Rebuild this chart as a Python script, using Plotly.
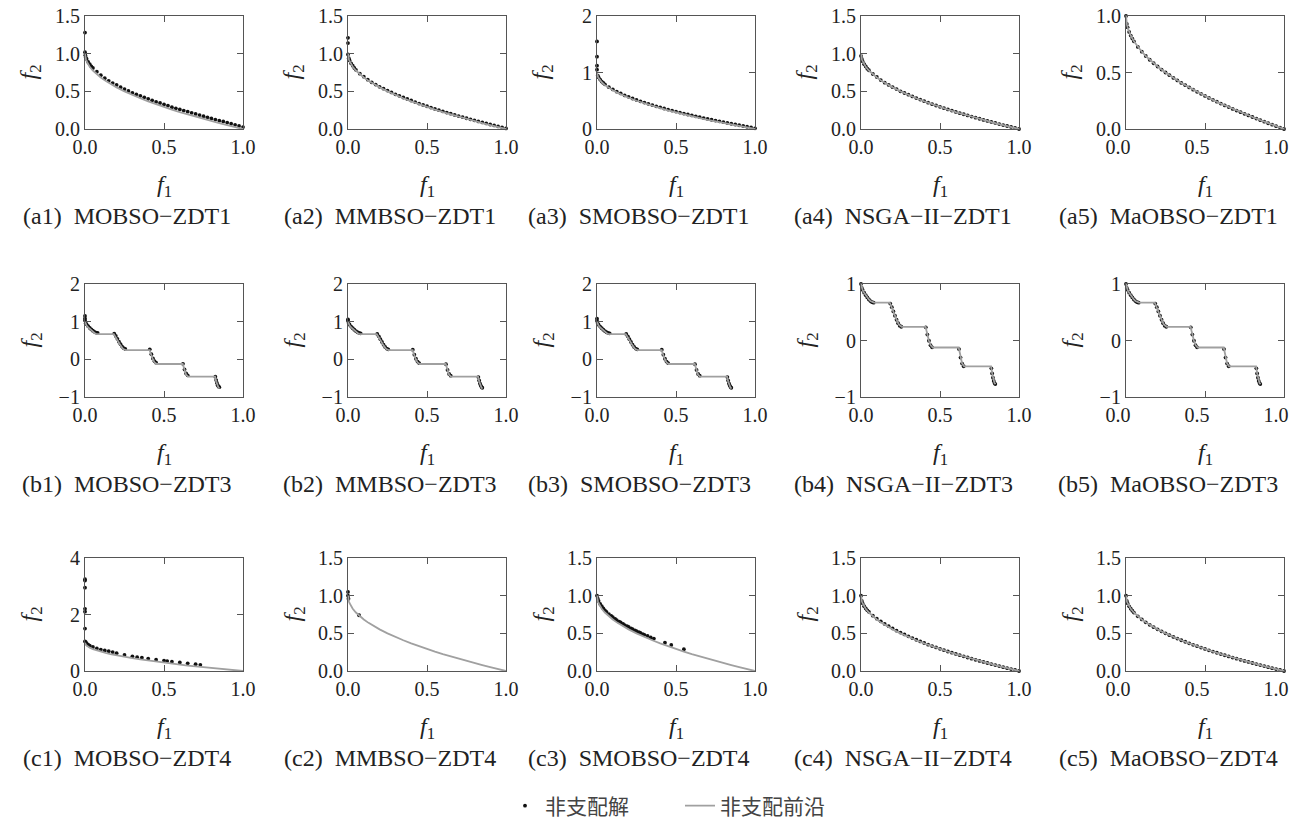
import plotly.graph_objects as go

# ---------------- data ----------------
TITLES = [
    "(a1)  MOBSO−ZDT1", "(a2)  MMBSO−ZDT1", "(a3)  SMOBSO−ZDT1", "(a4)  NSGA−II−ZDT1", "(a5)  MaOBSO−ZDT1",
    "(b1)  MOBSO−ZDT3", "(b2)  MMBSO−ZDT3", "(b3)  SMOBSO−ZDT3", "(b4)  NSGA−II−ZDT3", "(b5)  MaOBSO−ZDT3",
    "(c1)  MOBSO−ZDT4", "(c2)  MMBSO−ZDT4", "(c3)  SMOBSO−ZDT4", "(c4)  NSGA−II−ZDT4", "(c5)  MaOBSO−ZDT4",
]
X_TICKS = [0.0, 0.5, 1.0]
X_TICK_TEXT = ["0.0", "0.5", "1.0"]

# true Pareto fronts (grey line)
ZDT1_PF_F1 = [0, 0.001, 0.003, 0.006, 0.01, 0.02, 0.03, 0.05, 0.07, 0.1, 0.13, 0.16, 0.2, 0.25, 0.3,
              0.35, 0.4, 0.45, 0.5, 0.55, 0.6, 0.65, 0.7, 0.75, 0.8, 0.85, 0.9, 0.95, 1.0]
ZDT1_PF_F2 = [1.0, 0.968, 0.945, 0.923, 0.9, 0.859, 0.827, 0.776, 0.735, 0.684, 0.639, 0.6, 0.553, 0.5, 0.452,
              0.408, 0.368, 0.329, 0.293, 0.258, 0.225, 0.194, 0.163, 0.134, 0.106, 0.078, 0.051, 0.025, 0.0]

ZDT3_PF_F1 = [0, 0.005, 0.01, 0.02, 0.03, 0.04, 0.05, 0.06, 0.07, 0.083,
              0.1822, 0.19, 0.2, 0.21, 0.22, 0.23, 0.24, 0.2578,
              0.4093, 0.415, 0.42, 0.43, 0.44, 0.4539,
              0.6184, 0.625, 0.63, 0.64, 0.6525,
              0.8233, 0.83, 0.835, 0.84, 0.845, 0.8518]
ZDT3_PF_F2 = [1.0, 0.9285, 0.8969, 0.8468, 0.8025, 0.762, 0.7264, 0.698, 0.6788, 0.6697,
              0.6697, 0.6228, 0.5528, 0.4768, 0.402, 0.3343, 0.282, 0.2422,
              0.2422, 0.1674, 0.105, -0.004, -0.082, -0.1242,
              -0.1243, -0.2325, -0.3034, -0.4087, -0.4583,
              -0.4574, -0.5826, -0.6578, -0.7155, -0.754, -0.7734]

# non-dominated solutions (black dots)
ZDT1_DOT_F1 = [0.005, 0.01, 0.02, 0.03, 0.04, 0.05, 0.075, 0.1, 0.125, 0.15, 0.175, 0.2, 0.225, 0.25, 0.275,
               0.3, 0.325, 0.35, 0.375, 0.4, 0.425, 0.45, 0.475, 0.5, 0.525, 0.55, 0.575, 0.6, 0.625, 0.65,
               0.675, 0.7, 0.725, 0.75, 0.775, 0.8, 0.825, 0.85, 0.875, 0.9, 0.925, 0.95, 0.975, 1.0]

A1_F1 = [0.0, 0.0, 0.002] + ZDT1_DOT_F1
A1_F2 = [1.28, 1.02, 0.98,
         0.95, 0.93, 0.89, 0.86, 0.83, 0.81, 0.76, 0.715, 0.675, 0.64, 0.61, 0.585, 0.555, 0.53, 0.505,
         0.48, 0.46, 0.44, 0.42, 0.40, 0.38, 0.36, 0.345, 0.325, 0.31, 0.29, 0.275, 0.26, 0.245, 0.23,
         0.215, 0.2, 0.185, 0.17, 0.155, 0.14, 0.125, 0.11, 0.1, 0.085, 0.07, 0.055, 0.04, 0.025]

A2_F1 = [0.0, 0.0, 0.0] + ZDT1_DOT_F1
A2_F2 = [1.21, 1.14, 0.99,
         0.94, 0.91, 0.87, 0.84, 0.81, 0.785, 0.735, 0.695, 0.655, 0.62, 0.59, 0.56, 0.535, 0.51, 0.485,
         0.46, 0.44, 0.418, 0.398, 0.378, 0.357, 0.338, 0.32, 0.302, 0.284, 0.267, 0.25, 0.234, 0.218, 0.203,
         0.187, 0.172, 0.158, 0.143, 0.129, 0.115, 0.101, 0.087, 0.074, 0.06, 0.047, 0.034, 0.022, 0.008]

A3_F1 = [0.0, 0.0, 0.0, 0.0] + ZDT1_DOT_F1
A3_F2 = [1.55, 1.28, 1.12, 1.05,
         0.945, 0.915, 0.875, 0.84, 0.815, 0.79, 0.74, 0.7, 0.66, 0.63, 0.595, 0.57, 0.54, 0.515, 0.49,
         0.468, 0.445, 0.423, 0.402, 0.383, 0.363, 0.344, 0.326, 0.308, 0.29, 0.273, 0.257, 0.24, 0.224, 0.209,
         0.193, 0.178, 0.164, 0.149, 0.135, 0.121, 0.107, 0.093, 0.08, 0.066, 0.053, 0.04, 0.028, 0.012]

A4_F1 = [0.0] + ZDT1_DOT_F1
A4_F2 = [0.97,
         0.93, 0.90, 0.86, 0.83, 0.80, 0.78, 0.73, 0.69, 0.65, 0.615, 0.585, 0.555, 0.53, 0.5, 0.478,
         0.455, 0.432, 0.41, 0.39, 0.37, 0.35, 0.33, 0.312, 0.295, 0.277, 0.26, 0.244, 0.227, 0.21, 0.196,
         0.18, 0.165, 0.15, 0.136, 0.121, 0.107, 0.094, 0.08, 0.066, 0.052, 0.04, 0.027, 0.014, 0.0]

A5_F1 = [0.0] + ZDT1_DOT_F1
A5_F2 = [1.0,
         0.929, 0.900, 0.859, 0.827, 0.800, 0.776, 0.726, 0.684, 0.646, 0.613, 0.582, 0.553, 0.526, 0.500,
         0.476, 0.452, 0.430, 0.408, 0.388, 0.368, 0.348, 0.329, 0.311, 0.293, 0.275, 0.258, 0.242, 0.225,
         0.209, 0.194, 0.178, 0.163, 0.149, 0.134, 0.120, 0.106, 0.092, 0.078, 0.065, 0.051, 0.038, 0.025,
         0.013, 0.000]

ZDT3_DOT_F1 = [0, 0.005, 0.01, 0.02, 0.03, 0.04, 0.05, 0.06, 0.07, 0.08,
               0.185, 0.195, 0.205, 0.215, 0.225, 0.235, 0.245, 0.255,
               0.41, 0.42, 0.43, 0.44, 0.45,
               0.62, 0.63, 0.64, 0.65,
               0.825, 0.83, 0.835, 0.84, 0.845, 0.85]

B1_F1 = [0.0, 0.0] + ZDT3_DOT_F1
B1_F2 = [1.15, 1.08,
         1.03, 0.96, 0.93, 0.88, 0.835, 0.795, 0.76, 0.73, 0.71, 0.70,
         0.685, 0.62, 0.545, 0.47, 0.4, 0.34, 0.295, 0.275,
         0.265, 0.135, 0.025, -0.05, -0.09,
         -0.12, -0.27, -0.375, -0.425,
         -0.46, -0.55, -0.625, -0.685, -0.72, -0.74]

B2_F1 = [0.0] + ZDT3_DOT_F1
B2_F2 = [1.06,
         1.02, 0.95, 0.92, 0.87, 0.825, 0.785, 0.75, 0.72, 0.70, 0.69,
         0.675, 0.61, 0.535, 0.46, 0.39, 0.33, 0.285, 0.265,
         0.255, 0.125, 0.015, -0.06, -0.1,
         -0.13, -0.28, -0.39, -0.435,
         -0.47, -0.56, -0.64, -0.695, -0.735, -0.755]

B3_F1 = [0.0] + ZDT3_DOT_F1
B3_F2 = [1.08,
         1.02, 0.95, 0.92, 0.87, 0.825, 0.785, 0.75, 0.72, 0.70, 0.69,
         0.675, 0.61, 0.535, 0.46, 0.39, 0.33, 0.285, 0.265,
         0.255, 0.125, 0.015, -0.06, -0.1,
         -0.13, -0.28, -0.39, -0.435,
         -0.47, -0.56, -0.64, -0.695, -0.735, -0.755]

B4_F1 = ZDT3_DOT_F1
B4_F2 = [1.0, 0.929, 0.897, 0.847, 0.803, 0.762, 0.726, 0.698, 0.679, 0.670,
         0.654, 0.589, 0.515, 0.439, 0.367, 0.306, 0.263, 0.243,
         0.233, 0.105, -0.004, -0.082, -0.121,
         -0.152, -0.303, -0.409, -0.456,
         -0.492, -0.583, -0.658, -0.716, -0.754, -0.772]

B5_F1 = ZDT3_DOT_F1
B5_F2 = [1.0, 0.929, 0.897, 0.847, 0.803, 0.762, 0.726, 0.698, 0.679, 0.670,
         0.654, 0.589, 0.515, 0.439, 0.367, 0.306, 0.263, 0.243,
         0.233, 0.105, -0.004, -0.082, -0.121,
         -0.152, -0.303, -0.409, -0.456,
         -0.492, -0.583, -0.658, -0.716, -0.754, -0.772]

C1_F1 = [0, 0, 0, 0, 0, 0, 0,
         0.005, 0.01, 0.02, 0.03, 0.05, 0.075, 0.1, 0.125, 0.15, 0.175, 0.2, 0.25, 0.3, 0.33, 0.36,
         0.4, 0.45, 0.5, 0.52, 0.55, 0.6, 0.65, 0.7, 0.73]
C1_F2 = [3.25, 3.2, 2.95, 2.2, 2.1, 1.5, 1.05,
         1.02, 0.98, 0.93, 0.9, 0.85, 0.8, 0.76, 0.73, 0.7, 0.67, 0.63, 0.57, 0.52, 0.49, 0.47,
         0.44, 0.4, 0.37, 0.35, 0.33, 0.3, 0.27, 0.24, 0.22]

C2_F1 = [0.0, 0.0, 0.003, 0.07]
C2_F2 = [1.05, 1.0, 0.96, 0.74]

C3_F1 = [0, 0.005, 0.01, 0.02, 0.03, 0.04, 0.05, 0.06, 0.075, 0.09, 0.1, 0.115, 0.125, 0.14, 0.15,
         0.165, 0.175, 0.19, 0.2, 0.215, 0.225, 0.24, 0.25, 0.265, 0.275, 0.29, 0.3, 0.32, 0.34, 0.36,
         0.43, 0.47, 0.55]
C3_F2 = [1.0, 0.96, 0.93, 0.89, 0.86, 0.83, 0.805, 0.785, 0.755, 0.73, 0.715, 0.69, 0.675, 0.655, 0.645,
         0.625, 0.61, 0.595, 0.585, 0.565, 0.555, 0.54, 0.53, 0.515, 0.505, 0.49, 0.48, 0.465, 0.445, 0.43,
         0.375, 0.345, 0.29]

C4_F1 = [0.0] + ZDT1_DOT_F1
C4_F2 = [1.0,
         0.93, 0.90, 0.86, 0.83, 0.805, 0.785, 0.735, 0.695, 0.66, 0.625, 0.595, 0.565, 0.535, 0.51, 0.485,
         0.46, 0.437, 0.415, 0.393, 0.372, 0.35, 0.331, 0.313, 0.295, 0.277, 0.259, 0.243, 0.226, 0.21,
         0.195, 0.179, 0.164, 0.149, 0.134, 0.12, 0.106, 0.092, 0.078, 0.065, 0.051, 0.038, 0.025, 0.013, 0.0]

C5_F1 = [0.0] + ZDT1_DOT_F1
C5_F2 = [1.0,
         0.929, 0.900, 0.859, 0.827, 0.800, 0.776, 0.726, 0.684, 0.646, 0.613, 0.582, 0.553, 0.526, 0.500,
         0.476, 0.452, 0.430, 0.408, 0.388, 0.368, 0.348, 0.329, 0.311, 0.293, 0.275, 0.258, 0.242, 0.225,
         0.209, 0.194, 0.178, 0.163, 0.149, 0.134, 0.120, 0.106, 0.092, 0.078, 0.065, 0.051, 0.038, 0.025,
         0.013, 0.000]

DOTS = [(A1_F1, A1_F2), (A2_F1, A2_F2), (A3_F1, A3_F2), (A4_F1, A4_F2), (A5_F1, A5_F2),
        (B1_F1, B1_F2), (B2_F1, B2_F2), (B3_F1, B3_F2), (B4_F1, B4_F2), (B5_F1, B5_F2),
        (C1_F1, C1_F2), (C2_F1, C2_F2), (C3_F1, C3_F2), (C4_F1, C4_F2), (C5_F1, C5_F2)]
FRONTS = [(ZDT1_PF_F1, ZDT1_PF_F2)] * 5 + [(ZDT3_PF_F1, ZDT3_PF_F2)] * 5 + [(ZDT1_PF_F1, ZDT1_PF_F2)] * 5

# y-axis ticks per panel
Y_TICKS = [
    [0, 0.5, 1.0, 1.5], [0, 0.5, 1.0, 1.5], [0, 1, 2], [0, 0.5, 1.0, 1.5], [0, 0.5, 1.0],
    [-1, 0, 1, 2], [-1, 0, 1, 2], [-1, 0, 1, 2], [-1, 0, 1], [-1, 0, 1],
    [0, 2, 4], [0, 0.5, 1.0, 1.5], [0, 0.5, 1.0, 1.5], [0, 0.5, 1.0, 1.5], [0, 0.5, 1.0, 1.5],
]
Y_TICK_TEXT = [
    ["0.0", "0.5", "1.0", "1.5"], ["0.0", "0.5", "1.0", "1.5"], ["0", "1", "2"], ["0.0", "0.5", "1.0", "1.5"], ["0.0", "0.5", "1.0"],
    ["−1", "0", "1", "2"], ["−1", "0", "1", "2"], ["−1", "0", "1", "2"], ["−1", "0", "1"], ["−1", "0", "1"],
    ["0", "2", "4"], ["0.0", "0.5", "1.0", "1.5"], ["0.0", "0.5", "1.0", "1.5"], ["0.0", "0.5", "1.0", "1.5"], ["0.0", "0.5", "1.0", "1.5"],
]

LEGEND_DOTS = "非支配解"
LEGEND_FRONT = "非支配前沿"

# ---------------- layout / styling ----------------
W, H = 1294, 820
COL_LEFT = [85, 348, 597, 861, 1126]
ROW_TOP = [16, 284, 558]
PW, PH = 158, 113
COL_XLABEL_SHIFT = [0, 0, 0, 0, -8]

SERIF = "Liberation Serif, Times New Roman, serif"
TXT = "#222222"
AX = "#555555"
LINE_C = "#a0a0a0"
DOT_C = "#111111"

fig = go.Figure()
annotations = []
layout_axes = {}

for i in range(15):
    r, c = divmod(i, 5)
    left, top = COL_LEFT[c], ROW_TOP[r]
    xd = [left / W, (left + PW) / W]
    yd = [1 - (top + PH) / H, 1 - top / H]
    n = "" if i == 0 else str(i + 1)
    xr, yr = "x" + n, "y" + n

    dx, dy = DOTS[i]
    fx, fy = FRONTS[i]
    fig.add_trace(go.Scatter(x=dx, y=dy, mode="markers", xaxis=xr, yaxis=yr,
                             marker=dict(color=DOT_C, size=3.8),
                             name=LEGEND_DOTS, showlegend=(i == 0), legendrank=1,
                             cliponaxis=False))
    fig.add_trace(go.Scatter(x=fx, y=fy, mode="lines", xaxis=xr, yaxis=yr,
                             line=dict(color=LINE_C, width=1.8),
                             name=LEGEND_FRONT, showlegend=(i == 0), legendrank=2))

    yt = Y_TICKS[i]
    common = dict(showline=True, linecolor=AX, linewidth=1.2, mirror="ticks",
                  ticks="inside", ticklen=6, tickcolor=AX, tickwidth=1.2,
                  showgrid=False, zeroline=False, automargin=False,
                  tickfont=dict(family=SERIF, size=20, color=TXT))
    layout_axes["xaxis" + n] = dict(domain=xd, anchor=yr, range=[0, 1],
                                    tickvals=X_TICKS, ticktext=X_TICK_TEXT,
                                    ticklabelshift=COL_XLABEL_SHIFT[c], **common)
    layout_axes["yaxis" + n] = dict(domain=yd, anchor=xr, range=[yt[0], yt[-1]],
                                    tickvals=yt, ticktext=Y_TICK_TEXT[i], **common)

    cx = left + PW / 2
    bottom = top + PH
    annotations.append(dict(x=cx / W, y=1 - (bottom + 57) / H, xref="paper", yref="paper",
                            text="<i>f</i><sub>1</sub>", showarrow=False,
                            font=dict(family=SERIF, size=24, color=TXT),
                            xanchor="center", yanchor="middle"))
    annotations.append(dict(x=(left - 55) / W, y=1 - (top + PH / 2) / H, xref="paper", yref="paper",
                            text="<i>f</i><sub>2</sub>", showarrow=False, textangle=-90,
                            font=dict(family=SERIF, size=24, color=TXT),
                            xanchor="center", yanchor="middle"))
    annotations.append(dict(x=(cx - 37) / W, y=1 - (bottom + 87) / H, xref="paper", yref="paper",
                            text=TITLES[i], showarrow=False,
                            font=dict(family=SERIF, size=24, color=TXT),
                            xanchor="center", yanchor="middle"))

fig.update_layout(
    width=W, height=H,
    margin=dict(l=0, r=0, t=0, b=0, autoexpand=False),
    paper_bgcolor="white", plot_bgcolor="white",
    annotations=annotations,
    showlegend=True,
    legend=dict(orientation="h", x=505 / W, xanchor="left", y=1 - 806 / H, yanchor="middle",
                font=dict(family="Noto Sans CJK SC", size=21, color="#444444"),
                itemwidth=30, entrywidth=130, entrywidthmode="pixels",
                bgcolor="rgba(0,0,0,0)", traceorder="normal"),
    **layout_axes,
)

fig.write_html("out.html", config={"displayModeBar": False},
               post_script="document.body.style.margin='0px';document.body.style.overflow='hidden';")
